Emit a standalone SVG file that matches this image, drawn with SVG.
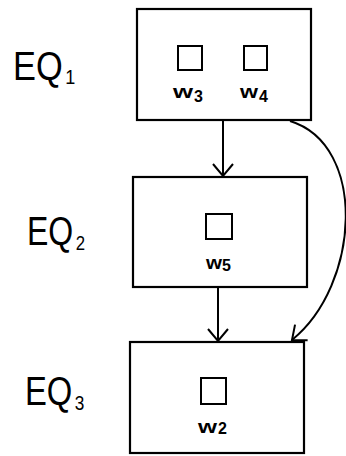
<svg xmlns="http://www.w3.org/2000/svg" width="346" height="456" viewBox="0 0 346 456">
<style>
.box{fill:none;stroke:#000;stroke-width:2.2}
.sq{fill:none;stroke:#000;stroke-width:2}
.lbl{font-family:"Liberation Sans",Arial,sans-serif;fill:#000}
.eq{font-size:40px}
.eqs{font-size:21px}
.w{font-size:19px;font-weight:bold}
.ws{font-size:16px;font-weight:bold}
.conn{fill:none;stroke:#000;stroke-width:2}
</style>
<defs>
<marker id="arr" markerUnits="userSpaceOnUse" markerWidth="24" markerHeight="24" viewBox="-14 -12 16 24" refX="0" refY="0" orient="auto" overflow="visible">
<path d="M-12,-10 L0,0 L-12,10" fill="none" stroke="#000" stroke-width="2"/>
</marker>
</defs>
<rect width="346" height="456" fill="#fff"/>
<g id="eq1">
<rect class="box" x="137" y="9" width="174" height="111"/>
<rect class="sq" x="178" y="46" width="24" height="24"/>
<rect class="sq" x="244" y="46" width="23" height="24"/>
<text class="lbl w" x="173" y="98" textLength="20" lengthAdjust="spacingAndGlyphs">w</text>
<text class="lbl ws" x="194" y="102">3</text>
<text class="lbl w" x="240" y="98" textLength="18" lengthAdjust="spacingAndGlyphs">w</text>
<text class="lbl ws" x="259" y="102">4</text>
<text class="lbl eq" transform="translate(13,80) scale(0.86,1)">EQ<tspan class="eqs" dx="3" dy="4">1</tspan></text>
</g>
<g id="eq2">
<rect class="box" x="133" y="177" width="174" height="110"/>
<rect class="sq" x="206" y="214" width="26" height="25"/>
<text class="lbl w" x="206" y="269" textLength="16" lengthAdjust="spacingAndGlyphs">w</text>
<text class="lbl ws" x="222" y="271">5</text>
<text class="lbl eq" transform="translate(27,245) scale(0.8,1)">EQ<tspan class="eqs" dx="3" dy="5">2</tspan></text>
</g>
<g id="eq3">
<rect class="box" x="130" y="342" width="174" height="111"/>
<rect class="sq" x="201" y="378" width="25" height="26"/>
<text class="lbl w" x="198" y="433" textLength="19" lengthAdjust="spacingAndGlyphs">w</text>
<text class="lbl ws" x="218" y="434">2</text>
<text class="lbl eq" transform="translate(25,405) scale(0.82,1)">EQ<tspan class="eqs" dx="3" dy="5">3</tspan></text>
</g>
<g id="connectors">
<path class="conn" d="M223,121 L223,176" marker-end="url(#arr)"/>
<path class="conn" d="M218,288 L218,341" marker-end="url(#arr)"/>
<path class="conn" d="M290,121 C368,145 360,285 292,340" marker-end="url(#arr)"/>
</g>
</svg>
